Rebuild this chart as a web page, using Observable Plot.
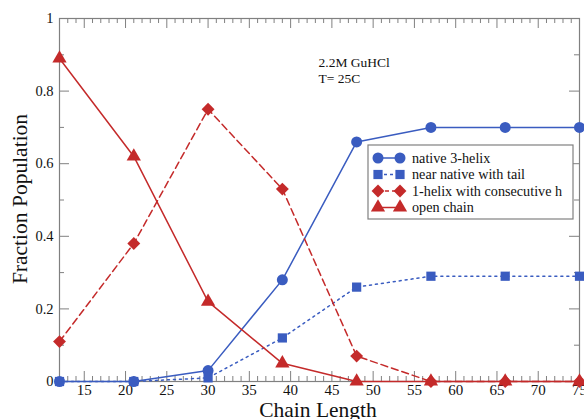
<!DOCTYPE html>
<html><head><meta charset="utf-8">
<script src="https://cdn.jsdelivr.net/npm/d3@7"></script>
<script src="https://cdn.jsdelivr.net/npm/@observablehq/plot@0.6"></script>
<style>body{margin:0;background:#fff;overflow:hidden} svg{font-family:"Liberation Serif","Times New Roman",serif}</style>
</head><body><div id="chart"></div>
<script>
const chainLength = [12, 21, 30, 39, 48, 57, 66, 75];
const native3Helix = [0, 0, 0.03, 0.28, 0.66, 0.70, 0.70, 0.70];
const nearNativeTail = [0, 0, 0.01, 0.12, 0.26, 0.29, 0.29, 0.29];
const oneHelix = [0.11, 0.38, 0.75, 0.53, 0.07, 0, 0, 0];
const openChain = [0.89, 0.62, 0.22, 0.05, 0, 0, 0, 0];
const seriesNames = ["native 3-helix", "near native with tail", "1-helix with consecutive h", "open chain"];
const xTickLabels = [15, 20, 25, 30, 35, 40, 45, 50, 55, 60, 65, 70, 75];
const yTickLabels = [0, 0.2, 0.4, 0.6, 0.8, 1];
const yMinorTicks = [0.1, 0.3, 0.5, 0.7, 0.9];
const xMinorTicks = d3.range(12, 76).filter(v => v % 5 !== 0);
const annotation = ["2.2M GuHCl", "T= 25C"];
const xTitle = "Chain Length";
const yTitle = "Fraction Population";

const seriesValues = [native3Helix, nearNativeTail, oneHelix, openChain];
const colors = ["#3a5cc0", "#3a5cc0", "#c42a2a", "#c42a2a"];
const symbols = ["circle", "square", "diamond2", "triangle"];
const dashes = [null, "2,4", "7,4", null];
const radii = [5.5, 5.2, 5.8, 5.3];

const W = 584, H = 419, mL = 59, mR = 5, mT = 18, mB = 38;
const pw = W - mL - mR, ph = H - mT - mB;
const axisColor = "#808080";

const marks = [];
marks.push(Plot.frame({stroke: axisColor, strokeWidth: 1.2}));
const majorLen = 10, minorLen = 5;
marks.push(Plot.tickX(xTickLabels, {x: d => d, insetTop: ph - majorLen, stroke: axisColor}));
marks.push(Plot.tickX(xMinorTicks, {x: d => d, insetTop: ph - minorLen, stroke: axisColor}));
marks.push(Plot.tickX(xTickLabels, {x: d => d, insetBottom: ph - majorLen, stroke: axisColor}));
marks.push(Plot.tickX(xMinorTicks, {x: d => d, insetBottom: ph - minorLen, stroke: axisColor}));
marks.push(Plot.tickY(yTickLabels, {y: d => d, insetRight: pw - majorLen, stroke: axisColor}));
marks.push(Plot.tickY(yMinorTicks, {y: d => d, insetRight: pw - minorLen, stroke: axisColor}));
marks.push(Plot.tickY(yTickLabels, {y: d => d, insetLeft: pw - majorLen, stroke: axisColor}));
marks.push(Plot.tickY(yMinorTicks, {y: d => d, insetLeft: pw - minorLen, stroke: axisColor}));
marks.push(Plot.axisX(xTickLabels, {anchor: "bottom", tickSize: 0, tickPadding: 3, fontSize: 15, label: null, tickFormat: d => String(d), fill: "#111"}));
marks.push(Plot.axisY(yTickLabels, {anchor: "left", tickSize: 0, tickPadding: 6, fontSize: 14.5, label: null, tickFormat: d => String(d), fill: "#111"}));

seriesValues.forEach((vals, s) => {
  const rows = chainLength.map((x, i) => ({x, y: vals[i]}));
  marks.push(Plot.line(rows, {x: "x", y: "y", stroke: colors[s], strokeWidth: 1.5, strokeDasharray: dashes[s]}));
});
[3, 2, 1, 0].forEach(s => {
  const rows = chainLength.map((x, i) => ({x, y: seriesValues[s][i]}));
  marks.push(Plot.dot(rows, {x: "x", y: "y", fill: colors[s], stroke: "none", symbol: () => symbols[s], r: radii[s]}));
});

marks.push(Plot.text([annotation[0]], {text: d => d, frameAnchor: "top-left", dx: 259, dy: 39, textAnchor: "start", fontSize: 13.5, fill: "#111"}));
marks.push(Plot.text([annotation[1]], {text: d => d, frameAnchor: "top-left", dx: 259, dy: 55, textAnchor: "start", fontSize: 13.5, fill: "#111"}));

const chart = Plot.plot({
  width: W, height: H,
  marginLeft: mL, marginRight: mR, marginTop: mT, marginBottom: mB,
  x: {domain: [12, 75]},
  y: {domain: [0, 1]},
  style: {background: "#fff", fontFamily: "Liberation Serif, serif"},
  marks
});
document.getElementById("chart").append(chart);

const svg = d3.select(chart);
// axis titles
svg.append("text").attr("x", 318).attr("y", 416.5).attr("text-anchor", "middle")
  .attr("font-size", 21.5).attr("fill", "#111").text(xTitle);
svg.append("text").attr("transform", "translate(27,199) rotate(-90)").attr("text-anchor", "middle")
  .attr("font-size", 21.5).attr("fill", "#111").text(yTitle);

// legend
const lg = svg.append("g").attr("transform", "translate(368,145)");
lg.append("rect").attr("width", 205).attr("height", 74).attr("fill", "#fff").attr("stroke", axisColor).attr("stroke-width", 1.2);
const symMap = {circle: d3.symbolCircle, square: d3.symbolSquare, diamond2: d3.symbolDiamond2, triangle: d3.symbolTriangle};
seriesNames.forEach((name, s) => {
  const yy = 13 + s * 16.5;
  lg.append("line").attr("x1", 10).attr("x2", 32).attr("y1", yy).attr("y2", yy)
    .attr("stroke", colors[s]).attr("stroke-width", 1.5).attr("stroke-dasharray", s === 1 ? "3,3" : (dashes[s] ? "4,3" : null));
  [10, 32].forEach(px => {
    lg.append("path").attr("d", d3.symbol(symMap[symbols[s]], Math.PI * radii[s] * radii[s])())
      .attr("transform", `translate(${px},${yy})`).attr("fill", colors[s]);
  });
  lg.append("text").attr("x", 44).attr("y", yy).attr("dy", "0.35em").attr("font-size", 14.2)
    .attr("text-anchor", "start").attr("fill", "#111").text(name);
});
</script></body></html>
